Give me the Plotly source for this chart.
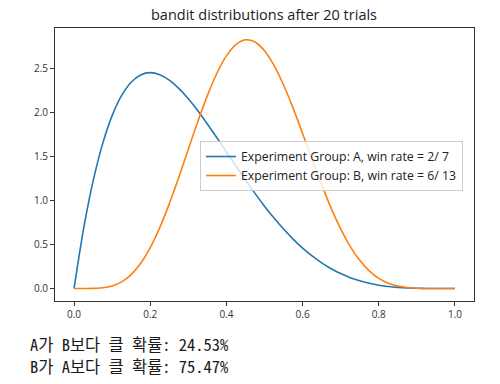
import plotly.graph_objects as go

x_vals = [0.0, 0.025, 0.05, 0.075, 0.10, 0.125, 0.15, 0.175, 0.20, 0.225, 0.25, 0.275,
          0.30, 0.325, 0.35, 0.375, 0.40, 0.425, 0.45, 0.475, 0.50, 0.525, 0.55, 0.575,
          0.60, 0.625, 0.65, 0.675, 0.70, 0.725, 0.75, 0.775, 0.80, 0.825, 0.85, 0.875,
          0.90, 0.925, 0.95, 0.975, 1.0]
group_a = [0.0, 0.678, 1.222, 1.647, 1.968, 2.198, 2.349, 2.432, 2.458, 2.435, 2.373, 2.279,
           2.161, 2.024, 1.874, 1.717, 1.555, 1.394, 1.235, 1.083, 0.938, 0.802, 0.677, 0.563,
           0.461, 0.371, 0.293, 0.226, 0.170, 0.124, 0.088, 0.060, 0.038, 0.023, 0.013, 0.006,
           0.003, 0.001, 0.0002, 0.0, 0.0]
group_b = [0.0, 0.0, 0.0013, 0.008, 0.029, 0.076, 0.159, 0.287, 0.465, 0.693, 0.964, 1.266,
           1.585, 1.901, 2.196, 2.451, 2.649, 2.778, 2.832, 2.807, 2.707, 2.540, 2.317, 2.054,
           1.766, 1.470, 1.183, 0.915, 0.679, 0.480, 0.321, 0.201, 0.116, 0.061, 0.028, 0.011,
           0.003, 0.0007, 0.0001, 0.0, 0.0]
labels = ["Experiment Group: A, win rate = 2/ 7", "Experiment Group: B, win rate = 6/ 13"]
colors = ["#1f77b4", "#ff7f0e"]
x_ticks = [0.0, 0.2, 0.4, 0.6, 0.8, 1.0]
y_ticks = [0.0, 0.5, 1.0, 1.5, 2.0, 2.5]
output_lines = ["A가 B보다 클 확률: 24.53%", "B가 A보다 클 확률: 75.47%"]

LATIN = "Open Sans, Noto Sans, sans-serif"

fig = go.Figure()
for ys, lab, c in zip([group_a, group_b], labels, colors):
    fig.add_trace(go.Scatter(x=x_vals, y=ys, mode="lines", name=lab,
                             line=dict(color=c, width=1.6, shape="spline", smoothing=0.8)))

axis_common = dict(showgrid=False, zeroline=False, showline=True, linecolor="#333",
                   linewidth=1, mirror=True, ticks="outside", ticklen=4, tickcolor="#333",
                   tickfont=dict(size=10, color="#333", family=LATIN))
fig.update_xaxes(range=[-0.05, 1.05], tickvals=x_ticks,
                 ticktext=[f"{v:.1f}" for v in x_ticks], **axis_common)
fig.update_yaxes(range=[-0.142, 2.966], tickvals=y_ticks,
                 ticktext=[f"{v:.1f}" for v in y_ticks], **axis_common)

annotations = []
for i, line in enumerate(output_lines):
    annotations.append(dict(text=line, xref="paper", yref="paper",
                            x=-0.0644, y=-0.1575 - i * 0.0806, xanchor="left", yanchor="middle",
                            showarrow=False,
                            font=dict(size=16.5, color="#1a1a1a",
                                      family="Noto Sans Mono CJK KR, DejaVu Sans Mono, monospace")))

fig.update_layout(
    width=500, height=384,
    margin=dict(l=55, r=26, t=28, b=83),
    paper_bgcolor="white", plot_bgcolor="white",
    title=dict(text="bandit distributions after 20 trials", x=0.528, xanchor="center",
               y=0.961, yanchor="middle",
               font=dict(size=14.5, color="#222", family=LATIN)),
    legend=dict(x=0.346, y=0.586, xanchor="left", yanchor="top",
                bgcolor="rgba(255,255,255,0.8)", bordercolor="#ccc", borderwidth=1,
                font=dict(size=12.3, color="#222", family=LATIN),
                tracegroupgap=0, itemwidth=30),
    annotations=annotations,
    showlegend=True,
)

fig.write_html("out.html", config={"displayModeBar": False},
               post_script="document.body.style.margin='0';")
